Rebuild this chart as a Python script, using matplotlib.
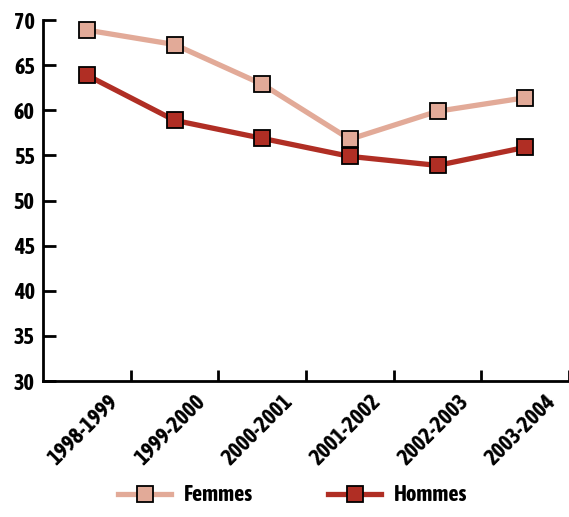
import matplotlib
matplotlib.use("Agg")
import matplotlib.pyplot as plt
import matplotlib.transforms as mtransforms
from matplotlib import font_manager as fm

# données
annees = ['1998-1999', '1999-2000', '2000-2001', '2001-2002', '2002-2003', '2003-2004']
femmes = [68.9, 67.3, 62.9, 56.8, 59.9, 61.4]
hommes = [63.9, 58.9, 56.9, 54.9, 53.9, 55.9]

couleur_femmes = '#E2AA98'
couleur_hommes = '#B02E24'


def est_gras(f):
    w = f.weight
    if isinstance(w, str):
        return w in ('bold', 'heavy', 'extra bold', 'black', 'demibold', 'semibold')
    return w >= 600


# police étroite, grasse et droite si disponible
etroites = [f for f in fm.fontManager.ttflist
            if f.style == 'normal'
            and ('Narrow' in f.name or 'Condensed' in f.name or f.stretch in ('condensed', 'semi-condensed'))]
grasses = sorted({f.name for f in etroites if est_gras(f)})
toutes = sorted({f.name for f in etroites})
if grasses:
    police, taille = grasses[0], 16
elif toutes:
    police, taille = toutes[0], 16
else:
    police, taille = 'DejaVu Sans', 12
plt.rcParams['font.family'] = [police, 'DejaVu Sans']
plt.rcParams['font.weight'] = 'bold'
plt.rcParams['font.style'] = 'normal'
plt.rcParams['font.stretch'] = 'condensed'

fig = plt.figure(figsize=(5.69, 5.17), dpi=100)
ax = fig.add_axes([0.0756, 0.263, 0.9244, 0.698])

x = list(range(len(annees)))
ax.plot(x, femmes, color=couleur_femmes, lw=3.8, marker='s', ms=12,
        mfc=couleur_femmes, mec='black', mew=1.3, label='Femmes', zorder=3)
ax.plot(x, hommes, color=couleur_hommes, lw=3.8, marker='s', ms=12,
        mfc=couleur_hommes, mec='black', mew=1.3, label='Hommes', zorder=3)

ax.set_ylim(30, 70)
ax.set_xlim(-0.5, 5.43)
ax.set_yticks(range(30, 71, 5))

# graduations entre les catégories, étiquettes au centre
ax.set_xticks([i + 0.5 for i in range(len(annees))])
ax.set_xticklabels([])
ax.set_xticks(x, minor=True)
ax.set_xticklabels(annees, minor=True, rotation=45, ha='right',
                   rotation_mode='anchor', fontsize=taille, fontweight='bold')
ax.tick_params(axis='x', which='minor', length=0, pad=7)
offset = mtransforms.ScaledTranslation(0.2, 0, fig.dpi_scale_trans)
for lab in ax.get_xticklabels(minor=True):
    lab.set_transform(lab.get_transform() + offset)

ax.tick_params(axis='x', which='major', direction='in', length=8, width=2)
ax.tick_params(axis='y', direction='in', length=9, width=2, labelsize=taille, pad=6)
for lab in ax.get_yticklabels():
    lab.set_fontweight('bold')

for s in ['top', 'right']:
    ax.spines[s].set_visible(False)
for s in ['left', 'bottom']:
    ax.spines[s].set_linewidth(2)

fig.legend(loc='lower center', bbox_to_anchor=(0.514, -0.018), ncol=2, frameon=False,
           handlelength=2.4, columnspacing=3.4, handletextpad=0.55,
           prop={'weight': 'bold', 'size': taille})

fig.savefig('out.png', dpi=100)
